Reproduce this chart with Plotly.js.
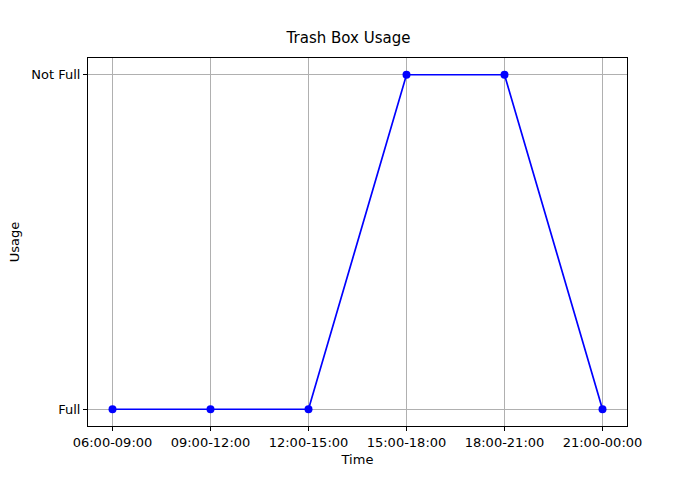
<!DOCTYPE html>
<html>
<head>
<script src="https://cdn.plot.ly/plotly-3.0.1.min.js"></script>
<style>body{margin:0}</style>
</head>
<body>
<div id="chart" style="width:697px;height:480px"></div>
<script>
let timeSlots = ['06:00-09:00', '09:00-12:00', '12:00-15:00', '15:00-18:00', '18:00-21:00', '21:00-00:00'];
let usageLevels = ['Full', 'Not Full'];
let usage = ['Full', 'Full', 'Full', 'Not Full', 'Not Full', 'Full'];

let xIdx = timeSlots.map((t, i) => i);
let yIdx = usage.map(u => usageLevels.indexOf(u));

let data = [{
    x: xIdx,
    y: yIdx,
    type: 'scatter',
    mode: 'lines+markers',
    line: {color: 'blue', width: 1.7},
    marker: {color: 'blue', size: 8}
}];

let axisStyle = {
    showline: true,
    mirror: true,
    linecolor: 'black',
    linewidth: 1,
    ticks: 'outside',
    ticklen: 4,
    tickcolor: 'black',
    showgrid: true,
    gridcolor: '#b0b0b0',
    zeroline: false,
    tickfont: {size: 13, color: 'black'}
};

let layout = {
    font: {family: 'DejaVu Sans', color: 'black'},
    title: {text: 'Trash Box Usage', font: {size: 15}, x: 0.5, y: 0.91, yanchor: 'bottom'},
    margin: {l: 88, r: 70, t: 58, b: 54},
    showlegend: false,
    plot_bgcolor: 'white',
    paper_bgcolor: 'white',
    xaxis: Object.assign({}, axisStyle, {
        title: {text: 'Time', font: {size: 13}, standoff: 6},
        tickvals: xIdx,
        ticktext: timeSlots,
        range: [-0.25, 5.25]
    }),
    yaxis: Object.assign({}, axisStyle, {
        title: {text: 'Usage', font: {size: 13}, standoff: 8},
        tickvals: [0, 1],
        ticktext: usageLevels,
        range: [-0.05, 1.05]
    })
};

Plotly.newPlot('chart', data, layout, {displayModeBar: false});
</script>
</body>
</html>
